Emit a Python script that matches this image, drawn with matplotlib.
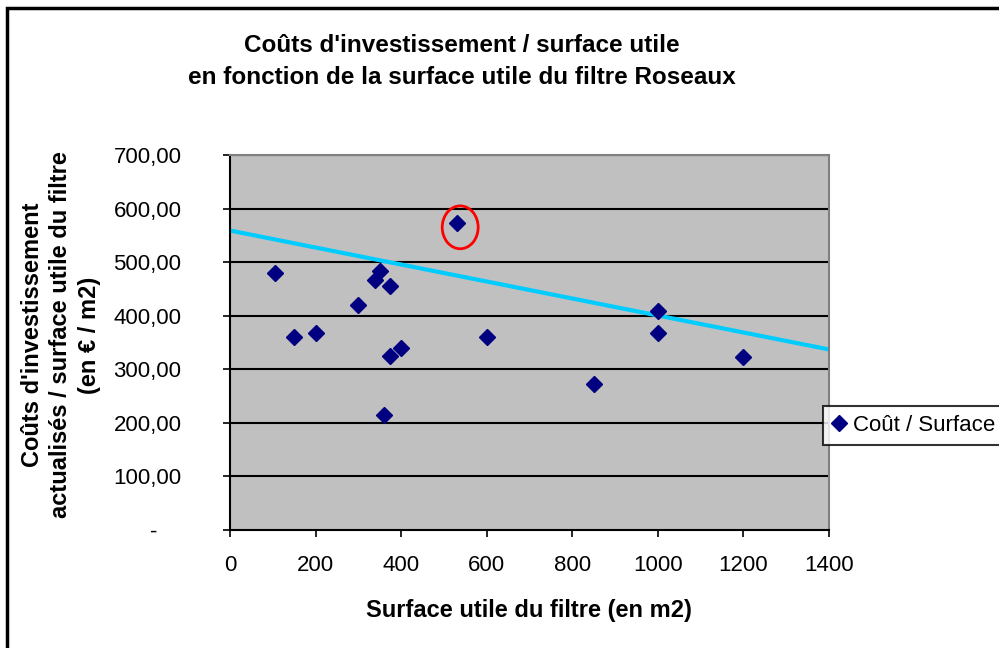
import matplotlib.pyplot as plt
from matplotlib.patches import Ellipse, Rectangle

# surface utile (m2) et cout / surface (EUR/m2)
surface = [105, 150, 200, 300, 340, 350, 375, 375, 400, 360, 530, 600, 850, 1000, 1000, 1200]
cout = [480, 360, 368, 420, 467, 483, 456, 325, 340, 215, 573, 360, 272, 408, 368, 323]

# courbe de tendance (extremites lues)
trend_x = [0, 1400]
trend_y = [559, 337]

x_ticks = [0, 200, 400, 600, 800, 1000, 1200, 1400]
y_ticks = [0, 100, 200, 300, 400, 500, 600, 700]
y_ticklabels = ['-    ', '100,00', '200,00', '300,00', '400,00', '500,00', '600,00', '700,00']

plt.rcParams['font.family'] = ['Liberation Sans', 'DejaVu Sans']

fig = plt.figure(figsize=(9.99, 6.48), dpi=100)
ax = fig.add_axes([230 / 999, 1 - 530 / 648, 599 / 999, 375 / 648])

ax.set_facecolor('#C0C0C0')
for y in y_ticks[1:]:
    ax.axhline(y, color='black', lw=1.5, zorder=1)

ax.plot(trend_x, trend_y, color='#00CCFF', lw=3, zorder=2)
ax.plot(surface, cout, 'D', color='#000080', markersize=8, zorder=3, label='Coût / Surface')

# point entoure en rouge
ax.add_patch(Ellipse((538, 565), 84, 80, fill=False, edgecolor='red', lw=2, zorder=4))

ax.set_xlim(0, 1400)
ax.set_ylim(0, 700)
ax.set_xticks(x_ticks)
ax.set_yticks(y_ticks)
ax.set_yticklabels(y_ticklabels)
ax.tick_params(axis='both', length=5, width=1.2, direction='out', color='black')
ax.tick_params(axis='x', labelsize=16, pad=13)
ax.tick_params(axis='y', labelsize=16, pad=30)

for side in ['left', 'bottom']:
    ax.spines[side].set_color('black')
    ax.spines[side].set_linewidth(1.5)
for side in ['top', 'right']:
    ax.spines[side].set_color('#808080')
    ax.spines[side].set_linewidth(1.5)

fig.text(529 / 999, 1 - 611 / 648, 'Surface utile du filtre (en m2)', ha='center', va='center',
         fontsize=17, fontweight='bold')
fig.text(61 / 999, 1 - 335 / 648,
         "Coûts d'investissement\nactualisés / surface utile du filtre\n(en € / m2)",
         ha='center', va='center', rotation=90, fontsize=17, fontweight='bold', linespacing=1.3)

fig.text(462 / 999, 1 - 45 / 648, "Coûts d'investissement / surface utile", ha='center', va='center',
         fontsize=17.5, fontweight='bold')
fig.text(462 / 999, 1 - 78 / 648, 'en fonction de la surface utile du filtre Roseaux', ha='center',
         va='center', fontsize=17.5, fontweight='bold')

# cadre exterieur
fig.patches.append(Rectangle((7 / 999, -0.05), 1.1, 1 - 8 / 648 + 0.05, transform=fig.transFigure,
                             fill=False, edgecolor='black', lw=2.5))

leg = fig.legend(loc='upper left', bbox_to_anchor=(823 / 999, 1 - 406 / 648), fontsize=16,
                 frameon=True, fancybox=False, edgecolor='black', handlelength=0.6,
                 handletextpad=0.35, borderpad=0.4, borderaxespad=0)
leg.get_frame().set_linewidth(1.5)

fig.savefig('out.png', dpi=100)
